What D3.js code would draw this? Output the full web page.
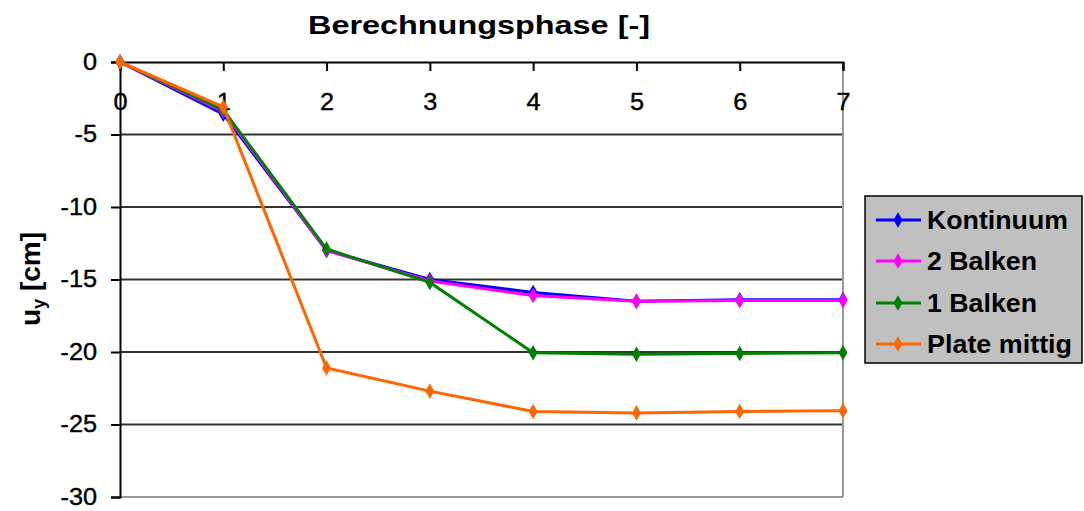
<!DOCTYPE html>
<html><head><meta charset="utf-8">
<script src="https://cdn.jsdelivr.net/npm/d3@7"></script>
<style>body{margin:0;background:#fff}svg{display:block}text{font-family:"Liberation Sans",Arial,sans-serif}</style>
</head><body><svg id="c" width="1084" height="511"></svg>
<script>
const phases = [0,1,2,3,4,5,6,7];
const xTicks = [0,1,2,3,4,5,6,7];
const yTicks = [0,-5,-10,-15,-20,-25,-30];
const seriesNames = ["Kontinuum","2 Balken","1 Balken","Plate mittig"];
const seriesColors = ["#0000FF","#FF00FF","#008000","#FF6600"];
const kontinuum = [0,-3.6,-13.0,-15.0,-15.9,-16.5,-16.4,-16.4];
const zweiBalken = [0,-3.4,-13.0,-15.1,-16.1,-16.5,-16.45,-16.45];
const einBalken = [0,-3.3,-12.9,-15.2,-20.05,-20.15,-20.1,-20.05];
const plateMittig = [0,-3.1,-21.1,-22.7,-24.1,-24.2,-24.1,-24.05];
const seriesValues = [kontinuum, zweiBalken, einBalken, plateMittig];

const svg = d3.select("#c");
const L=120, R=843, T=62, B=497;
const x = d3.scaleLinear().domain([0,7]).range([L,R]);
const y = d3.scaleLinear().domain([0,-30]).range([T,B]);

// gridlines
svg.append("g").selectAll("line").data(yTicks.filter(v=>v<0 && v>-30)).join("line")
  .attr("x1",L).attr("x2",R).attr("y1",d=>y(d)).attr("y2",d=>y(d))
  .attr("stroke","#333").attr("stroke-width",2);
// plot border right & bottom
svg.append("line").attr("x1",R).attr("x2",R).attr("y1",T).attr("y2",B).attr("stroke","#999").attr("stroke-width",2);
svg.append("line").attr("x1",L).attr("x2",R).attr("y1",B).attr("y2",B).attr("stroke","#999").attr("stroke-width",2);

const fmt = d => String(d);
// y axis
const ya = svg.append("g").attr("transform",`translate(${L},0)`)
  .call(d3.axisLeft(y).tickValues(yTicks).tickSize(9).tickPadding(12).tickFormat(fmt));
ya.select(".domain").attr("stroke","#000").attr("stroke-width",2);
ya.selectAll(".tick line").attr("stroke","#000").attr("stroke-width",2);
ya.selectAll("text").attr("font-size",23).attr("fill","#000").attr("font-family","Liberation Sans, Arial")
  .attr("stroke","#000").attr("stroke-width",0.4)
  .attr("transform","scale(1.1,1)").attr("x",-23/1.1);

// x axis at y=0
const xa = svg.append("g").attr("transform",`translate(0,${y(0)})`)
  .call(d3.axisBottom(x).tickValues(xTicks).tickSize(9).tickPadding(0).tickFormat(fmt));
xa.select(".domain").attr("stroke","#000").attr("stroke-width",2);
xa.selectAll(".tick line").attr("stroke","#000").attr("stroke-width",2);
xa.selectAll("text").attr("font-size",23).attr("fill","#000").attr("font-family","Liberation Sans, Arial")
  .attr("stroke","#000").attr("stroke-width",0.4)
  .attr("dy",null).attr("y",48).attr("transform","scale(1.1,1)");

// lines
const line = d3.line().x((d,i)=>x(phases[i])).y(d=>y(d));
const diamond = d3.symbol().type(d3.symbolDiamond).size(70);
seriesValues.forEach((vals,k)=>{
  const g = svg.append("g");
  g.append("path").datum(vals).attr("d",line).attr("fill","none")
    .attr("stroke",seriesColors[k]).attr("stroke-width",3);
  g.selectAll("path.m").data(vals).join("path").attr("class","m")
    .attr("d",diamond).attr("transform",(d,i)=>`translate(${x(phases[i])},${y(d)})`)
    .attr("fill",seriesColors[k]);
});

// title
svg.append("text").attr("x",479).attr("y",34).attr("text-anchor","middle")
  .attr("font-size",25).attr("font-weight","bold").attr("textLength",342).attr("lengthAdjust","spacingAndGlyphs")
  .text("Berechnungsphase [-]");

// y title
const yt = svg.append("text").attr("transform","translate(40,279) rotate(-90)").attr("text-anchor","middle")
  .attr("font-size",28).attr("font-weight","bold");
yt.append("tspan").text("u");
yt.append("tspan").attr("font-size",18).attr("dy",5).text("y");
yt.append("tspan").attr("dy",-5).text(" [cm]");

// legend
const lg = svg.append("g");
lg.append("rect").attr("x",865).attr("y",196).attr("width",217).attr("height",167)
  .attr("fill","#C0C0C0").attr("stroke","#000").attr("stroke-width",1.5);
const rowsY = [220,261,303,344];
const textW = [141,110,110,145];
seriesNames.forEach((n,k)=>{
  const yy = rowsY[k];
  lg.append("line").attr("x1",876).attr("x2",921).attr("y1",yy).attr("y2",yy)
    .attr("stroke",seriesColors[k]).attr("stroke-width",3);
  lg.append("path").attr("d",diamond).attr("transform",`translate(898,${yy})`).attr("fill",seriesColors[k]);
  lg.append("text").attr("x",927).attr("y",yy+9).attr("font-size",25).attr("font-weight","bold")
    .attr("textLength",textW[k]).attr("lengthAdjust","spacingAndGlyphs").text(n);
});
</script></body></html>
